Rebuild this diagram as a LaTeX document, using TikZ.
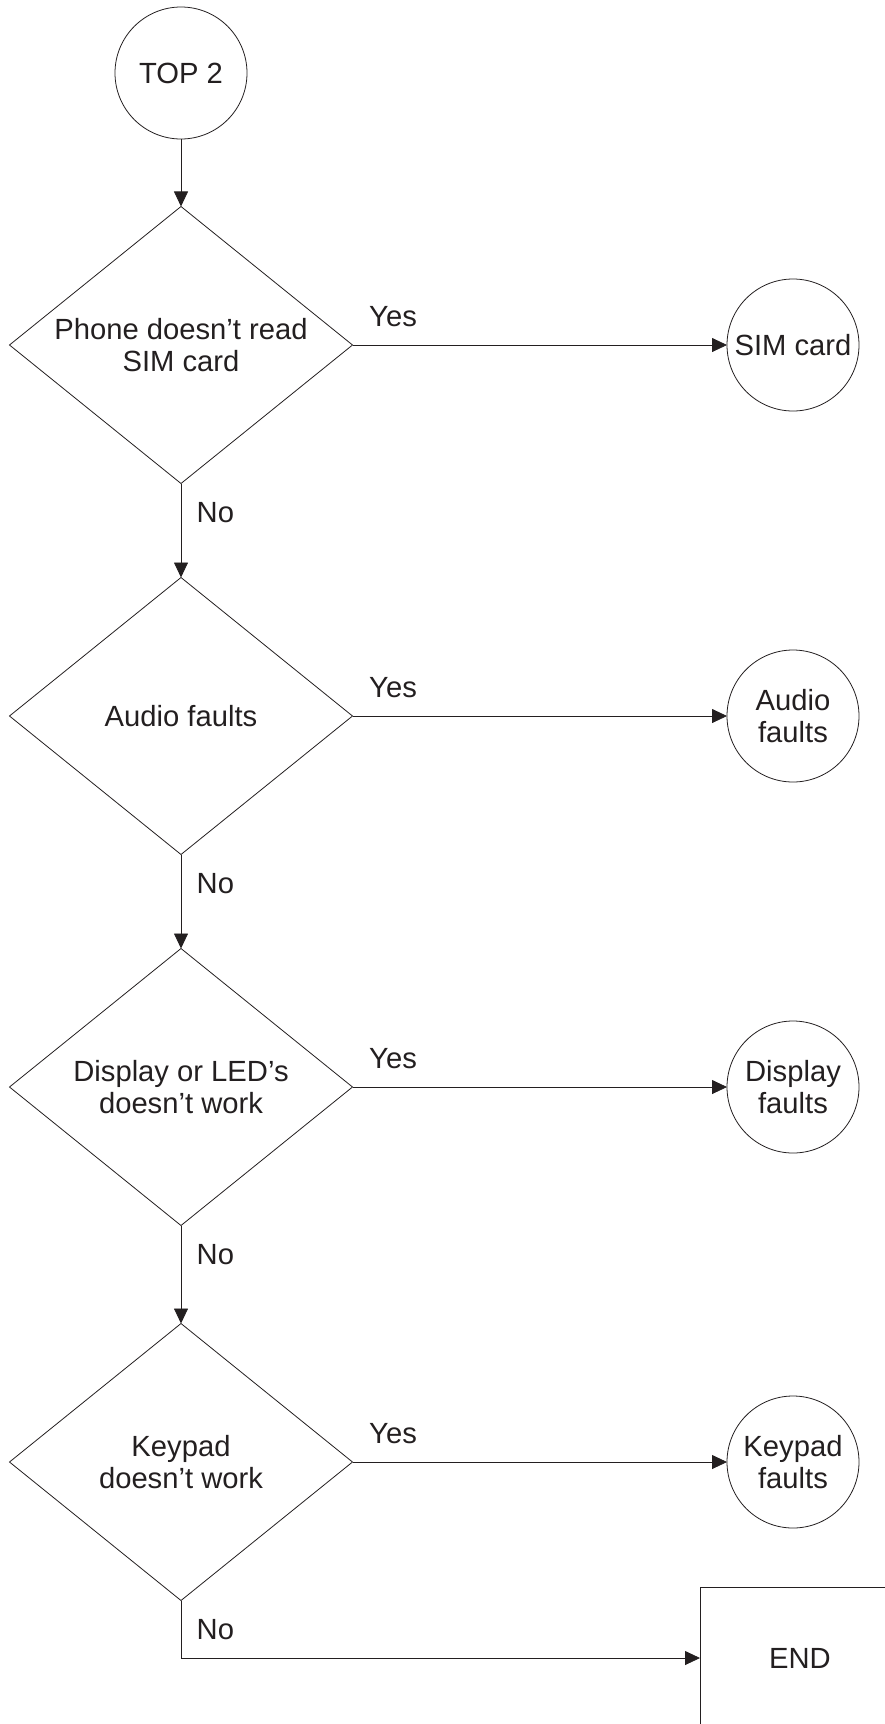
\documentclass[tikz,border=0pt]{standalone}
\usepackage{fontspec}
\setmainfont{Liberation Sans}
\usetikzlibrary{shapes.geometric,arrows.meta}
\definecolor{ink}{HTML}{231F20}

\tikzset{
  test/.style={diamond,draw,aspect=1.24,minimum width=343pt,minimum height=277pt,inner sep=0pt,outer sep=0pt,align=center},
  conn/.style={circle,draw,minimum size=132pt,inner sep=0pt,outer sep=0pt,align=center},
  stop/.style={rectangle,draw,minimum width=200pt,minimum height=142pt,outer sep=0pt},
  flow/.style={-{Triangle[length=15pt,width=14pt]}},
  yes/.style={pos=0,anchor=base west,shift={(13,-19)}},
  no/.style={pos=0,anchor=base west,shift={(12,39)}}
}

\begin{document}
\begin{tikzpicture}[x=1pt,y=-1pt,line width=0.8pt,color=ink,font=\fontsize{29.2}{32.5}\selectfont]
\useasboundingbox (0,0) rectangle (885,1724);
\clip (0,0) rectangle (885,1724);
\node[conn] (top) at (181,73) {TOP 2};
\node[test] (q1) at (181,345) {Phone doesn’t read\\SIM card};
\node[conn] (sim) at (793,345) {SIM card};
\node[test] (q2) at (181,716) {Audio faults};
\node[conn] (audio) at (793,716) {Audio\\faults};
\node[test] (q3) at (181,1087) {Display or LED’s\\doesn’t work};
\node[conn] (disp) at (793,1087) {Display\\faults};
\node[test] (q4) at (181,1462) {Keypad\\doesn’t work};
\node[conn] (keys) at (793,1462) {Keypad\\faults};
\node[stop] (end) at (800,1658) {END};
\draw[flow] (top) -- (q1);
\draw[flow] (q1) -- node[yes] {Yes} (sim);
\draw[flow] (q1) -- node[no] {No} (q2);
\draw[flow] (q2) -- node[yes] {Yes} (audio);
\draw[flow] (q2) -- node[no] {No} (q3);
\draw[flow] (q3) -- node[yes] {Yes} (disp);
\draw[flow] (q3) -- node[no] {No} (q4);
\draw[flow] (q4) -- node[yes] {Yes} (keys);
\draw[flow] (q4) |- node[no] {No} (end);
\end{tikzpicture}
\end{document}
